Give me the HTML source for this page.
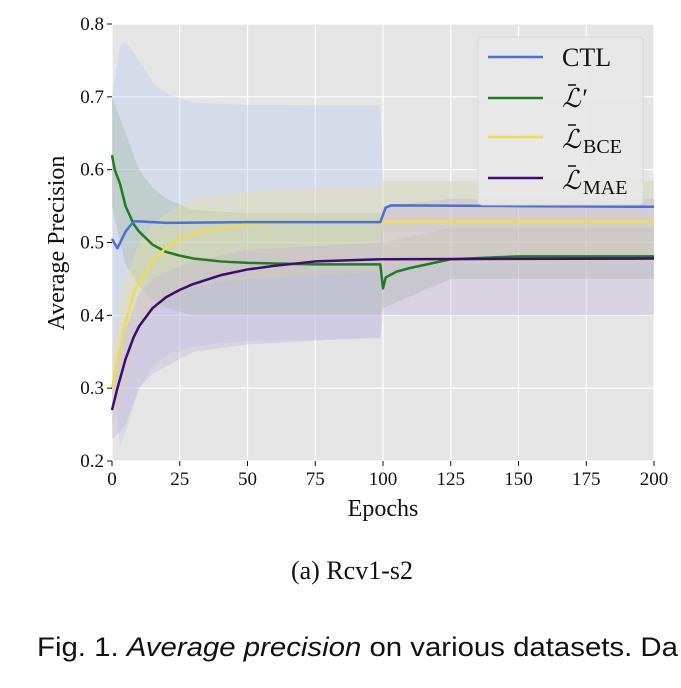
<!DOCTYPE html>
<html><head><meta charset="utf-8"><style>
body{margin:0;background:#fff;width:681px;height:683px;overflow:hidden;font-family:"Liberation Serif",serif}
</style></head><body>
<svg id="chart" width="681" height="683" xmlns="http://www.w3.org/2000/svg" font-family="Liberation Serif, DejaVu Serif, serif">
<rect x="112" y="24" width="542" height="437" fill="#e5e5e5"/>
<g id="grid"></g>
<g id="bands"></g>
<g id="lines"></g>
<g id="axes" font-size="19" fill="#111"></g>
<text transform="translate(64,243) rotate(-90)" text-anchor="middle" font-size="24" fill="#111">Average Precision</text>
<text x="383" y="516" text-anchor="middle" font-size="24" fill="#111">Epochs</text>
<g>
<rect x="478" y="37" width="165" height="168" rx="4" fill="#e8e8e8" fill-opacity="0.9" stroke="#d8d8d8"/>
<g><line x1="488" y1="57" x2="543" y2="57" stroke="#4a6fd6" stroke-width="2.5"/><text x="562" y="66" font-size="26" fill="#111">CTL</text></g>
<g><line x1="488" y1="98" x2="543" y2="98" stroke="#1e7e1e" stroke-width="2.5"/><text x="562" y="107" font-size="26" font-style="italic" fill="#111">ℒ′</text><line x1="568" y1="85" x2="576" y2="85" stroke="#111" stroke-width="1.5"/></g>
<g><line x1="488" y1="137" x2="543" y2="137" stroke="#f0dc4c" stroke-width="2.5"/><text x="562" y="148" font-size="26" font-style="italic" fill="#111">ℒ</text><text x="583" y="153" font-size="20" fill="#111">BCE</text><line x1="568" y1="125" x2="576" y2="125" stroke="#111" stroke-width="1.5"/></g>
<g><line x1="488" y1="178" x2="543" y2="178" stroke="#3f0a77" stroke-width="2.5"/><text x="562" y="189" font-size="26" font-style="italic" fill="#111">ℒ</text><text x="583" y="194" font-size="20" fill="#111">MAE</text><line x1="568" y1="166" x2="576" y2="166" stroke="#111" stroke-width="1.5"/></g>
</g>
<text x="352" y="579" text-anchor="middle" font-size="26" fill="#111">(a) Rcv1-s2</text>
<text x="37" y="656" font-size="27" textLength="641" lengthAdjust="spacingAndGlyphs" font-family="Liberation Sans, sans-serif" fill="#111">Fig. 1. <tspan font-style="italic">Average precision</tspan> on various datasets. Da</text>
</svg>
<script>
const xTicks=[0,25,50,75,100,125,150,175,200];
const yTicks=[0.2,0.3,0.4,0.5,0.6,0.7,0.8];
const ctlEp=[0,2,5,8,10,20,50,99,101,103,150,200];
const ctlVal=[0.505,0.492,0.515,0.529,0.529,0.527,0.528,0.528,0.548,0.551,0.550,0.549];
const lpEp=[0,1,3,5,8,10,15,20,25,30,40,50,75,99,100,101,105,110,125,150,200];
const lpVal=[0.62,0.60,0.58,0.55,0.525,0.515,0.497,0.487,0.482,0.478,0.474,0.472,0.470,0.470,0.437,0.452,0.460,0.465,0.477,0.481,0.481];
const bceEp=[0,2,5,8,10,15,20,25,30,40,50,60,75,99,101,200];
const bceVal=[0.30,0.34,0.39,0.43,0.445,0.475,0.493,0.505,0.512,0.520,0.525,0.527,0.528,0.528,0.529,0.529];
const maeEp=[0,2,5,8,10,15,20,25,30,40,50,60,75,99,200];
const maeVal=[0.27,0.30,0.34,0.37,0.385,0.41,0.425,0.435,0.443,0.455,0.463,0.468,0.474,0.477,0.478];
const bandEp=[0,3,5,10,15,20,30,50,99,100,125,200];
const ctlUp=[0.70,0.77,0.775,0.75,0.72,0.705,0.692,0.689,0.688,0.585,0.585,0.585];
const ctlLo=[0.32,0.22,0.24,0.30,0.33,0.345,0.358,0.365,0.368,0.515,0.515,0.515];
const lpUp=[0.70,0.67,0.65,0.60,0.575,0.56,0.545,0.54,0.54,0.50,0.52,0.52];
const lpLo=[0.55,0.50,0.47,0.44,0.42,0.41,0.40,0.40,0.40,0.41,0.45,0.45];
const bceUp=[0.35,0.42,0.45,0.50,0.525,0.54,0.56,0.57,0.575,0.585,0.585,0.585];
const bceLo=[0.25,0.28,0.30,0.38,0.40,0.42,0.44,0.45,0.46,0.47,0.47,0.47];
const maeUp=[0.31,0.36,0.38,0.43,0.45,0.46,0.475,0.49,0.50,0.55,0.56,0.56];
const maeLo=[0.23,0.24,0.25,0.30,0.32,0.33,0.35,0.36,0.37,0.40,0.40,0.40];
const NS="http://www.w3.org/2000/svg";
const X=e=>112+e*(542/200), Y=v=>461-(v-0.2)*(437/0.6);
function mk(t,a,p){const e=document.createElementNS(NS,t);for(const k in a)e.setAttribute(k,a[k]);p.appendChild(e);return e;}
const grid=document.getElementById('grid'),axes=document.getElementById('axes');
xTicks.forEach(t=>{
 const g=mk('line',{x1:X(t),x2:X(t),y1:24,y2:461,stroke:'#fff','stroke-width':1.2},grid);
 
 
 const tk=mk('line',{x1:X(t),x2:X(t),y1:461,y2:466,stroke:'#111'},axes);
 
 
 const l=mk('text',{x:X(t),y:485,'text-anchor':'middle'},axes);l.textContent=t;
 
 
});
yTicks.forEach(t=>{
 const g=mk('line',{x1:112,x2:654,y1:Y(t),y2:Y(t),stroke:'#fff','stroke-width':1.2},grid);
 
 
 const tk=mk('line',{x1:107,x2:112,y1:Y(t),y2:Y(t),stroke:'#111'},axes);
 
 
 const l=mk('text',{x:104,y:Y(t)+6,'text-anchor':'end'},axes);l.textContent=t.toFixed(1);
 
 
});
const bands=document.getElementById('bands');
[[ctlUp,ctlLo,'#b8c8f0','ctl-band'],[lpUp,lpLo,'#9ab89a','l-prime-band'],[bceUp,bceLo,'#ece39a','l-bce-band'],[maeUp,maeLo,'#c2b0d8','l-mae-band']].forEach(([u,l,c,n])=>{
 let d='M'+bandEp.map((e,i)=>X(e)+','+Y(u[i])).join('L');
 d+='L'+bandEp.map((e,i)=>X(e)+','+Y(l[i])).reverse().join('L')+'Z';
 const p=mk('path',{d:d,fill:c,'fill-opacity':0.35},bands);
 
 
});
const lines=document.getElementById('lines');
[[lpEp,lpVal,'#1e7e1e','l-prime-line'],[bceEp,bceVal,'#f0dc4c','l-bce-line'],[maeEp,maeVal,'#3f0a77','l-mae-line'],[ctlEp,ctlVal,'#4a6fd6','ctl-line']].forEach(([e,v,c,n])=>{
 const p=mk('polyline',{points:e.map((x,i)=>X(x)+','+Y(v[i])).join(' '),fill:'none',stroke:c,'stroke-width':2.5,'stroke-linejoin':'round'},lines);
 
 
});
</script>
</body></html>
